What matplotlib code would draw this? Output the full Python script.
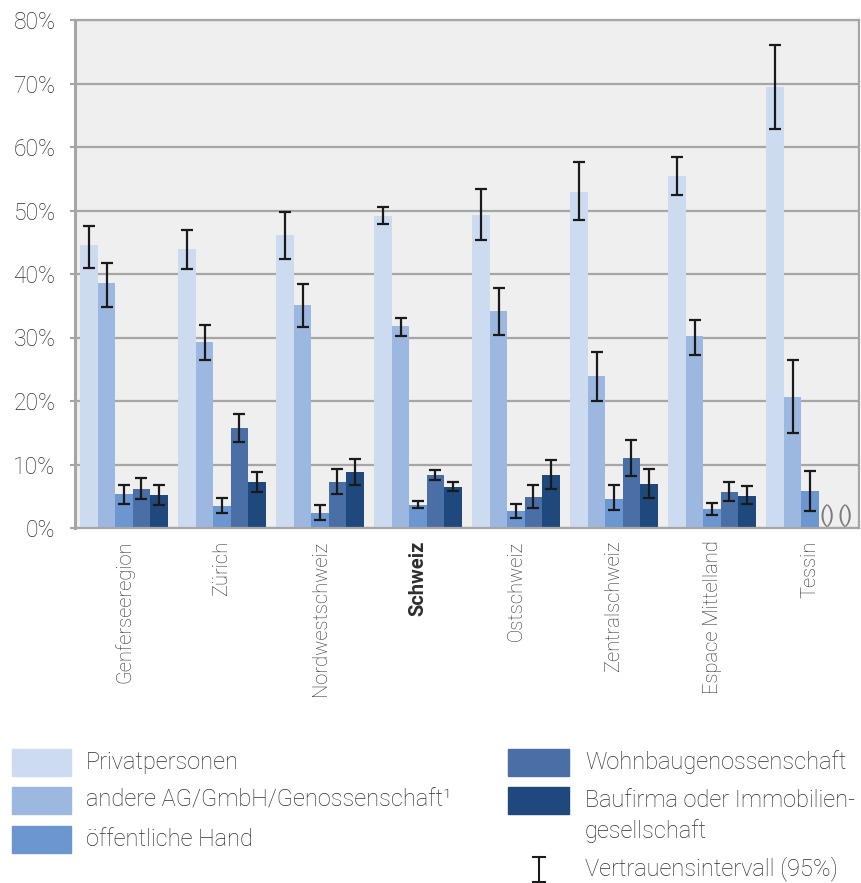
import numpy as np
import matplotlib.pyplot as plt
from matplotlib.patches import Rectangle
from matplotlib.lines import Line2D

plt.rcParams['font.family'] = ['Roboto', 'DejaVu Sans']

regions = ['Genferseeregion', 'Zürich', 'Nordwestschweiz', 'Schweiz', 'Ostschweiz',
           'Zentralschweiz', 'Espace Mittelland', 'Tessin']
series = ['Privatpersonen', 'andere AG/GmbH/Genossenschaft¹', 'öffentliche Hand',
          'Wohnbaugenossenschaft', 'Baufirma oder Immobilien-\ngesellschaft']
colors = ['#cddbf1', '#9db8e0', '#6b96cf', '#4a6fa6', '#1f487c']

# shares in %
privat = [44.5, 44.0, 46.1, 49.1, 49.3, 52.9, 55.4, 69.4]
andere = [38.6, 29.3, 35.1, 31.8, 34.2, 23.9, 30.2, 20.6]
oeffentlich = [5.3, 3.5, 2.4, 3.7, 2.6, 4.6, 3.0, 5.8]
wohnbau = [6.2, 15.7, 7.3, 8.3, 4.9, 11.0, 5.6, np.nan]
baufirma = [5.2, 7.2, 8.8, 6.5, 8.4, 7.0, 5.1, np.nan]

# 95% confidence interval bounds in %
privat_lo = [41.0, 40.8, 42.4, 47.9, 45.4, 48.5, 52.4, 62.9]
privat_hi = [47.5, 46.9, 49.8, 50.6, 53.4, 57.6, 58.4, 76.0]
andere_lo = [34.8, 26.5, 31.7, 30.2, 30.4, 20.0, 27.2, 14.9]
andere_hi = [41.7, 32.0, 38.4, 33.1, 37.8, 27.7, 32.8, 26.5]
oeffentlich_lo = [3.8, 2.3, 1.2, 3.2, 1.5, 2.8, 2.0, 2.7]
oeffentlich_hi = [6.8, 4.8, 3.6, 4.25, 3.8, 6.7, 4.0, 9.0]
wohnbau_lo = [4.6, 13.5, 5.3, 7.6, 3.1, 8.2, 4.3, np.nan]
wohnbau_hi = [7.8, 18.0, 9.3, 9.1, 6.8, 13.9, 7.2, np.nan]
baufirma_lo = [3.6, 5.7, 6.7, 5.8, 6.1, 4.7, 3.8, np.nan]
baufirma_hi = [6.8, 8.8, 10.9, 7.3, 10.7, 9.3, 6.6, np.nan]

values = [privat, andere, oeffentlich, wohnbau, baufirma]
lows = [privat_lo, andere_lo, oeffentlich_lo, wohnbau_lo, baufirma_lo]
highs = [privat_hi, andere_hi, oeffentlich_hi, wohnbau_hi, baufirma_hi]

txt = '#2e2e2e'
grid = '#a6a6a6'
fs = 17

fig = plt.figure(figsize=(8.61, 8.83), dpi=100)
ax = fig.add_axes([75 / 861, 1 - 528 / 883, 784 / 861, 508 / 883])
ax.set_facecolor('#efefef')

x = np.arange(len(regions))
w = 0.178
for k in range(5):
    v = np.array(values[k], dtype=float)
    lo = np.array(lows[k], dtype=float)
    hi = np.array(highs[k], dtype=float)
    pos = x + (k - 2) * w
    ax.bar(pos, v, width=w, color=colors[k], zorder=2)
    ax.errorbar(pos, v, yerr=[v - lo, hi - v], fmt='none', ecolor='#1a1a1a',
                elinewidth=1.6, capsize=4, capthick=1.6, zorder=3)

# Tessin: too few cases for the last two categories
for k in (3, 4):
    ax.text(x[-1] + (k - 2) * w, 0.2, '()', ha='center', va='bottom',
            fontsize=16, color='#7a7a7a', zorder=3)

ax.set_xlim(-0.5, 7.5)
ax.set_ylim(0, 80)
ax.set_yticks(np.arange(0, 81, 10))
ax.set_yticklabels([f'{t}%' for t in range(0, 81, 10)], fontsize=16.5, color=txt,
                   fontweight='light')
ax.yaxis.grid(True, color=grid, linewidth=1.6, zorder=1)
ax.set_axisbelow(True)
ax.tick_params(axis='y', length=3.5, width=1.5, color=grid, pad=10.5)
ax.set_xticks(x)
ax.set_xticklabels(regions, rotation=90, fontsize=14.5, color=txt, fontweight='light',
                   va='top', ha='center')
ax.tick_params(axis='x', length=0, pad=9)
ax.get_xticklabels()[3].set_fontweight('bold')
for s in ax.spines.values():
    s.set_color(grid)
    s.set_linewidth(1.6)
ax.spines['left'].set_linewidth(2.2)

# legend
def px(xp, yp):
    return xp / 861, 1 - yp / 883

left_rows = [(0, 762), (1, 800), (2, 839)]
right_rows = [(3, 762), (4, 800)]
for k, yc in left_rows:
    fig.patches.append(Rectangle(px(12, yc + 13.5), 59 / 861, 27 / 883,
                                 transform=fig.transFigure, color=colors[k]))
    fig.text(*px(86, yc), series[k], fontsize=fs, color=txt, va='center',
             fontweight='light')
for k, yc in right_rows:
    fig.patches.append(Rectangle(px(508, yc + 13.5), 61 / 861, 27 / 883,
                                 transform=fig.transFigure, color=colors[k]))
    fig.text(*px(585, yc + 16 if k == 4 else yc), series[k], fontsize=fs, color=txt,
             va='center', fontweight='light', linespacing=1.4)

# confidence interval symbol
cx, y0, y1 = 539, 857, 882
fig.add_artist(Line2D([cx / 861, cx / 861], [1 - y0 / 883, 1 - y1 / 883],
                      transform=fig.transFigure, color='#1a1a1a', lw=1.5))
for yy in (y0, y1):
    fig.add_artist(Line2D([(cx - 6) / 861, (cx + 6) / 861], [1 - yy / 883, 1 - yy / 883],
                          transform=fig.transFigure, color='#1a1a1a', lw=1.5))
fig.text(*px(585, 869), 'Vertrauensintervall (95%)', fontsize=fs, color=txt,
         va='center', fontweight='light')

fig.savefig('out.png', dpi=100)
